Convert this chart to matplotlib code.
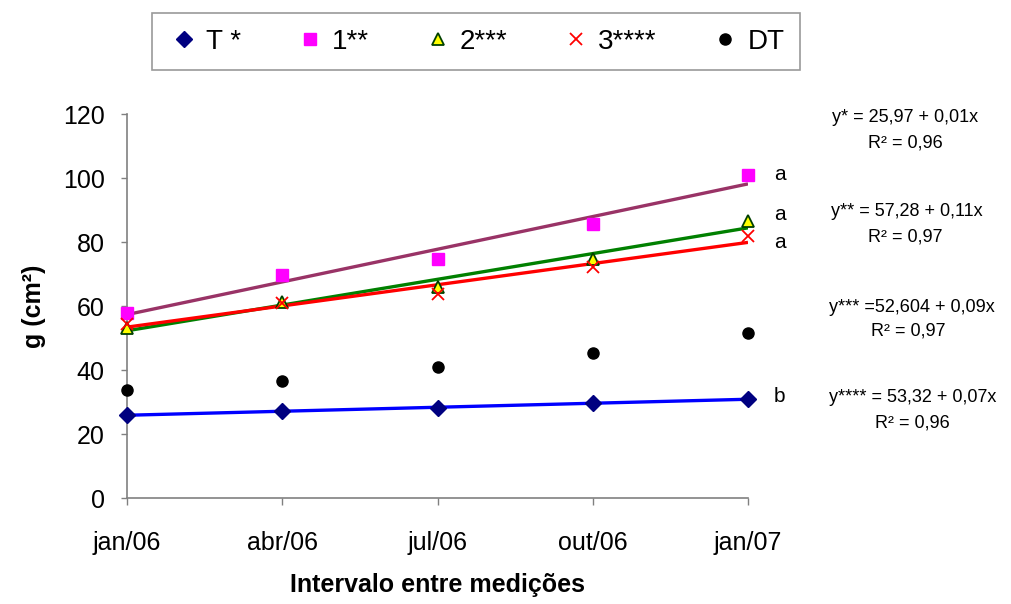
import numpy as np
import matplotlib
matplotlib.use("Agg")
import matplotlib.pyplot as plt

plt.rcParams['font.family'] = ['Liberation Sans', 'DejaVu Sans']

categories = ["jan/06", "abr/06", "jul/06", "out/06", "jan/07"]
series_names = ["T *", "1**", "2***", "3****", "DT"]
t_vals = [25.9, 27.2, 28.1, 29.7, 30.9]
s1_vals = [57.8, 69.7, 74.7, 85.6, 100.9]
s2_vals = [53.1, 61.3, 66.0, 74.7, 86.6]
s3_vals = [54.4, 61.0, 63.7, 72.2, 81.9]
dt_vals = [33.7, 36.6, 40.9, 45.3, 51.6]
equations = ["y* = 25,97 + 0,01x", "y** = 57,28 + 0,11x",
             "y*** =52,604 + 0,09x", "y**** = 53,32 + 0,07x"]
r2_labels = ["R² = 0,96", "R² = 0,97", "R² = 0,97", "R² = 0,96"]
letters = ["a", "a", "a", "b"]

fig = plt.figure(figsize=(10.11, 6.04), dpi=100)
W, H = 1011, 604
ax = fig.add_axes([127 / W, 1 - 498 / H, (748 - 127) / W, (498 - 114) / H])

x = np.arange(len(categories))

def trend(vals, color):
    p = np.polyfit(x, vals, 1)
    ax.plot(x[[0, -1]], np.polyval(p, x[[0, -1]]), color=color, lw=2.4, zorder=2,
            solid_capstyle='butt')

trend(s1_vals, '#993366')
trend(s2_vals, '#008000')
trend(s3_vals, '#FF0000')
trend(t_vals, '#0000FF')

h_t, = ax.plot(x, t_vals, ls='none', marker='D', ms=8, color='#000080', zorder=4, clip_on=False)
h_1, = ax.plot(x, s1_vals, ls='none', marker='s', ms=8, color='#FF00FF', zorder=4, clip_on=False)
h_2, = ax.plot(x, s2_vals, ls='none', marker='^', ms=9, mfc='#FFFF00', mec='#004000', mew=1.3, zorder=4, clip_on=False)
h_3, = ax.plot(x, s3_vals, ls='none', marker='x', ms=9, mew=1.3, color='#FF0000', zorder=4, clip_on=False)
h_dt, = ax.plot(x, dt_vals, ls='none', marker='o', ms=8, color='black', zorder=4, clip_on=False)

ax.set_xlim(0, 4)
ax.set_ylim(0, 120)
ax.set_yticks(np.arange(0, 121, 20))
ax.set_xticks(x)
ax.set_xticklabels(categories)
ax.tick_params(axis='both', labelsize=18, direction='out', width=1, color='#808080')
ax.tick_params(axis='x', length=5, pad=19)
ax.tick_params(axis='y', length=4, pad=12)
for s in ['top', 'right']:
    ax.spines[s].set_visible(False)
for s in ['left', 'bottom']:
    ax.spines[s].set_color('#808080')
    ax.spines[s].set_linewidth(1.2)

ax.set_ylabel("g (cm²)", fontsize=18, fontweight='bold', labelpad=12)
ax.set_xlabel("Intervalo entre medições", fontsize=18, fontweight='bold', labelpad=13)

# significance letters
letter_px = [175, 215, 243, 396]
for lt, py in zip(letters, letter_px):
    fig.text(774 / W, 1 - py / H, lt, fontsize=15, ha='left', va='center')

# equations
eq_px = [117, 212, 307, 397]
r2_px = [143, 237, 331, 423]
eq_x = [905, 907, 912, 913]
r2_x = [905, 905, 908, 912]
for eq, r2, py, ry, ex, rx in zip(equations, r2_labels, eq_px, r2_px, eq_x, r2_x):
    fig.text(ex / W, 1 - py / H, eq, fontsize=13, ha='center', va='center')
    fig.text(rx / W, 1 - ry / H, r2, fontsize=13, ha='center', va='center')

leg = fig.legend([h_t, h_1, h_2, h_3, h_dt], series_names, ncol=5, mode='expand',
                 loc='lower left', bbox_to_anchor=(152 / W, 1 - 70 / H, (800 - 152) / W, 58 / H),
                 fontsize=20, frameon=True, fancybox=False, edgecolor='#808080',
                 handletextpad=0.2, handlelength=1.2, borderaxespad=0, borderpad=0.55,
                 markerscale=1.0)
leg.get_frame().set_linewidth(1.2)

fig.savefig("out.png", dpi=100)
